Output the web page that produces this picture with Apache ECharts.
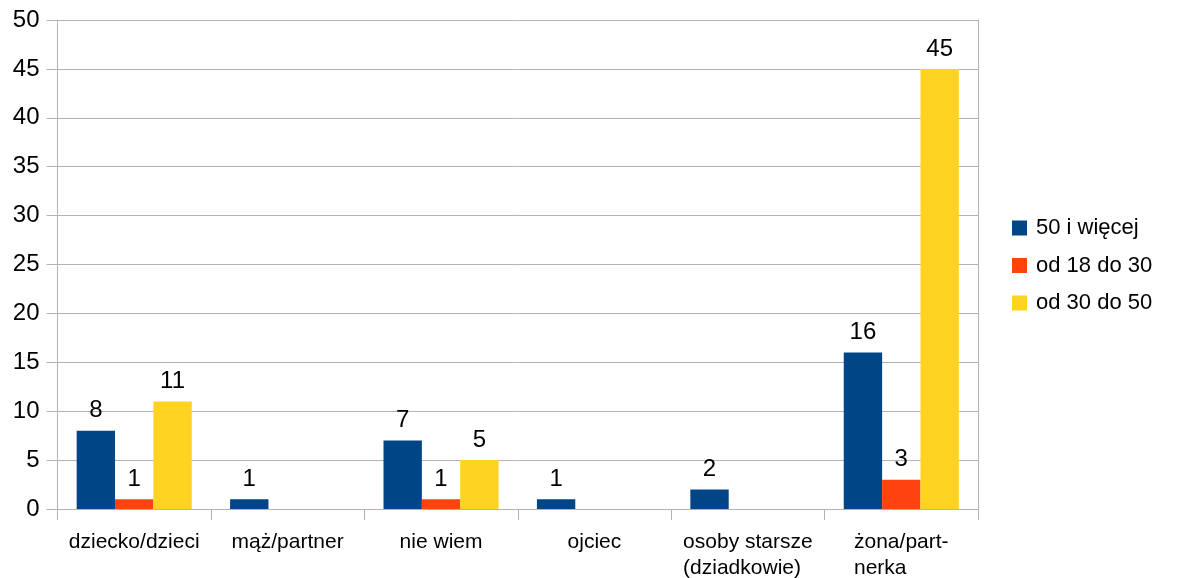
<!DOCTYPE html>
<html><head><meta charset="utf-8">
<script src="https://cdn.jsdelivr.net/npm/echarts@6/dist/echarts.min.js"></script>
<style>html,body{margin:0;padding:0;background:#fff}#c{width:1178px;height:578px}</style>
</head><body><div id="c"></div>
<script>
const categories = ['dziecko/dzieci', 'mąż/partner', 'nie wiem', 'ojciec', 'osoby starsze\n(dziadkowie)', 'żona/part-\nnerka'];
const seriesNames = ['50 i więcej', 'od 18 do 30', 'od 30 do 50'];
const s50plus = [8, 1, 7, 1, 2, 16];
const s18to30 = [1, null, 1, null, null, 3];
const s30to50 = [11, null, 5, null, null, 45];
const colors = ['#004586', '#ff420e', '#ffd320'];
const yTicks = {min: 0, max: 50, interval: 5};

const font = 'Liberation Sans, Arial, sans-serif';
const chart = echarts.init(document.getElementById('c'));
const mk = (name, data, color) => ({
  name, type: 'bar', data, barGap: '0%', barCategoryGap: '25%',
  itemStyle: {color},
  label: {show: true, position: 'top', distance: 8, color: '#000', fontSize: 24, fontFamily: font}
});
chart.setOption({
  animation: false,
  textStyle: {fontFamily: font},
  grid: {left: 57.5, right: 200, top: 20, bottom: 69, containLabel: false, outerBoundsMode: 'none'},
  legend: {
    orient: 'vertical', left: 1007, top: 212,
    itemWidth: 15, itemHeight: 15, itemGap: 15.5,
    icon: 'rect',
    textStyle: {fontSize: 22, color: '#000', fontFamily: font, padding: [0, 0, 0, 4]},
    data: seriesNames
  },
  xAxis: {
    type: 'category', data: categories,
    axisLine: {show: true, lineStyle: {color: '#b3b3b3'}},
    axisTick: {show: true, length: 11, alignWithLabel: false, lineStyle: {color: '#b3b3b3'}},
    axisLabel: {
      color: '#000', fontSize: 21, fontFamily: font, margin: 20, lineHeight: 26, interval: 0,
      formatter: v => v.split('\n').map(s => '{a|' + s + '}').join('\n'),
      rich: {a: {align: 'left', fontSize: 21, lineHeight: 26, fontFamily: font, color: '#000'}}
    }
  },
  yAxis: [{
    type: 'value', min: yTicks.min, max: yTicks.max, interval: yTicks.interval,
    axisLine: {show: true, lineStyle: {color: '#b3b3b3'}},
    axisTick: {show: true, length: 11, lineStyle: {color: '#b3b3b3'}},
    splitLine: {show: true, lineStyle: {color: '#b3b3b3'}},
    axisLabel: {color: '#000', fontSize: 24, fontFamily: font, margin: 18}
  }, {
    type: 'value', min: yTicks.min, max: yTicks.max, interval: yTicks.interval, position: 'right',
    axisLine: {show: true, lineStyle: {color: '#b3b3b3'}},
    axisTick: {show: false}, splitLine: {show: false}, axisLabel: {show: false}
  }],
  series: [
    mk(seriesNames[0], s50plus, colors[0]),
    mk(seriesNames[1], s18to30, colors[1]),
    mk(seriesNames[2], s30to50, colors[2])
  ]
});
</script></body></html>
